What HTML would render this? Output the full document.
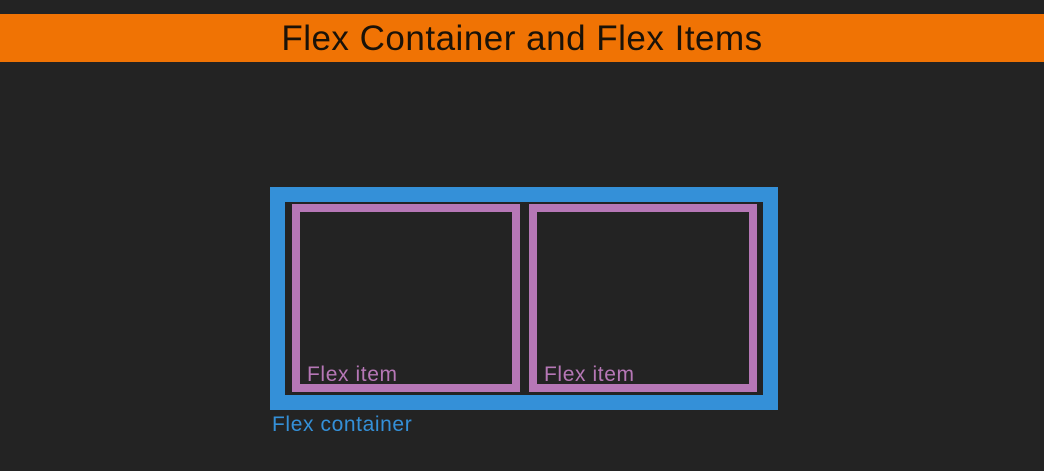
<!DOCTYPE html>
<html><head><style>
body{margin:0;width:1044px;height:471px;background:#232323;position:relative;overflow:hidden;font-family:"Liberation Sans",sans-serif}
.bar{position:absolute;left:0;top:14px;width:1044px;height:48px;background:#f07304;color:#1a1208;font-size:35px;text-align:center;line-height:50px;letter-spacing:0.5px}
.c{position:absolute;left:270px;top:187px;width:478px;height:193px;border:15px solid #3490d8;background:#232323}
.i{position:absolute;top:204px;width:212px;height:172px;border:8px solid #b677b6}
.t{position:absolute;color:#b677b6;font-size:21px;letter-spacing:0.6px}
.l{position:absolute;left:272px;top:413px;color:#3490d8;font-size:21px;letter-spacing:0.6px}
</style></head><body>
<div class="bar">Flex Container and Flex Items</div>
<div class="c"></div>
<div class="i" style="left:292px"></div>
<div class="i" style="left:529px"></div>
<div class="t" style="left:307px;top:363px">Flex item</div>
<div class="t" style="left:544px;top:363px">Flex item</div>
<div class="l">Flex container</div>
</body></html>
